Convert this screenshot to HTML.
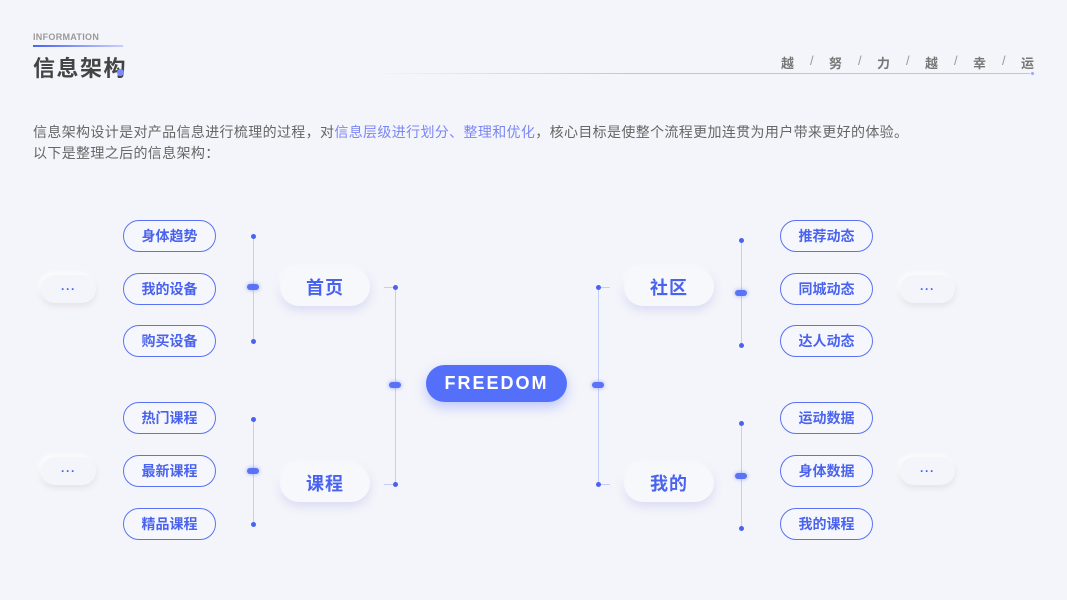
<!DOCTYPE html>
<html><head><meta charset="utf-8"><style>
*{margin:0;padding:0;box-sizing:border-box}
body{width:1067px;height:600px;background:#f4f5fa;position:relative;overflow:hidden;font-family:"Liberation Sans","Noto Sans CJK SC",sans-serif}
.a{position:absolute}
.leaf{position:absolute;width:93px;height:32px;border:1.5px solid #5a72f5;border-radius:16px;color:#4a63ef;font-size:14px;font-weight:bold;display:flex;align-items:center;justify-content:center;background:#f6f7fc}
.mid{position:absolute;width:90px;height:38px;border-radius:19px;background:#f7f8fc;box-shadow:0 4px 10px rgba(110,125,220,.22),-2px -2px 6px #fff;color:#4a63ef;font-size:18px;font-weight:bold;display:flex;align-items:center;justify-content:center;letter-spacing:1px}
.dots{position:absolute;width:55px;height:28px;border-radius:14px;background:#f4f5fa;box-shadow:0 3px 7px rgba(0,0,0,.08),-2px -2px 5px #fff;color:#4a63ef;font-size:12px;font-weight:bold;display:flex;align-items:center;justify-content:center;letter-spacing:1px}
.vl{position:absolute;width:1px;background:#c5cdfb}
.hl{position:absolute;height:1px;background:#c5cdfb}
.dot{position:absolute;width:5px;height:5px;border-radius:50%;background:#4a63ef;margin:-2px 0 0 -2px}
.dash{position:absolute;width:12px;height:6px;border-radius:3px;background:#5a72f5;margin:-3px 0 0 -6px;box-shadow:0 0 4px rgba(90,114,245,.6)}
.s{position:absolute;top:53px;font-size:13px;font-weight:bold;color:#777}
.sl{position:absolute;top:53px;font-size:13px;color:#999}
</style></head><body>
<div class="a" style="left:33px;top:32px;font-size:9px;color:#999;font-weight:bold;letter-spacing:.3px">INFORMATION</div>
<div class="a" style="left:33px;top:45px;width:90px;height:2px;background:linear-gradient(90deg,#4a63ef,#c8cffb)"></div>
<div class="a" style="left:33px;top:51px;font-size:22px;font-weight:bold;color:#444;letter-spacing:1.5px">信息架构</div>
<div class="a" style="left:117px;top:69px;width:7px;height:7px;border-radius:50%;background:#7d8cf5"></div>
<div class="a" style="left:370px;top:73px;width:660px;height:1px;background:linear-gradient(90deg,rgba(180,195,250,0),#b5c3fa 40%)"></div>
<div class="a" style="left:1031px;top:72px;width:3px;height:3px;border-radius:50%;background:#9aa8f8"></div>
<div class="s" style="left:781px">越</div><div class="sl" style="left:810px">/</div>
<div class="s" style="left:829px">努</div><div class="sl" style="left:858px">/</div>
<div class="s" style="left:877px">力</div><div class="sl" style="left:906px">/</div>
<div class="s" style="left:925px">越</div><div class="sl" style="left:954px">/</div>
<div class="s" style="left:973px">幸</div><div class="sl" style="left:1002px">/</div>
<div class="s" style="left:1021px">运</div>
<div class="a" style="left:33px;top:122px;font-size:14px;color:#666;line-height:21px;letter-spacing:.35px;white-space:nowrap">信息架构设计是对产品信息进行梳理的过程，对<span style="color:#7b86f5">信息层级进行划分、整理和优化</span>，核心目标是使整个流程更加连贯为用户带来更好的体验。<br>以下是整理之后的信息架构：</div>

<div class="dots" style="left:41px;top:275px">···</div>
<div class="dots" style="left:41px;top:457px">···</div>
<div class="dots" style="left:900px;top:275px">···</div>
<div class="dots" style="left:900px;top:457px">···</div>

<div class="leaf" style="left:123px;top:220px">身体趋势</div>
<div class="leaf" style="left:123px;top:273px">我的设备</div>
<div class="leaf" style="left:123px;top:325px">购买设备</div>
<div class="leaf" style="left:123px;top:402px">热门课程</div>
<div class="leaf" style="left:123px;top:455px">最新课程</div>
<div class="leaf" style="left:123px;top:508px">精品课程</div>
<div class="leaf" style="left:780px;top:220px">推荐动态</div>
<div class="leaf" style="left:780px;top:273px">同城动态</div>
<div class="leaf" style="left:780px;top:325px">达人动态</div>
<div class="leaf" style="left:780px;top:402px">运动数据</div>
<div class="leaf" style="left:780px;top:455px">身体数据</div>
<div class="leaf" style="left:780px;top:508px">我的课程</div>

<div class="vl" style="left:253px;top:236px;height:106px"></div>
<div class="dot" style="left:253px;top:236px"></div><div class="dot" style="left:253px;top:341px"></div><div class="dash" style="left:253px;top:287px"></div>
<div class="vl" style="left:253px;top:419px;height:106px"></div>
<div class="dot" style="left:253px;top:419px"></div><div class="dot" style="left:253px;top:524px"></div><div class="dash" style="left:253px;top:471px"></div>

<div class="mid" style="left:280px;top:268px">首页</div>
<div class="mid" style="left:280px;top:464px">课程</div>
<div class="mid" style="left:624px;top:268px">社区</div>
<div class="mid" style="left:624px;top:464px">我的</div>

<div class="hl" style="left:384px;top:287px;width:11px"></div>
<div class="hl" style="left:384px;top:484px;width:11px"></div>
<div class="vl" style="left:395px;top:287px;height:197px"></div>
<div class="dot" style="left:395px;top:287px"></div><div class="dot" style="left:395px;top:484px"></div><div class="dash" style="left:395px;top:385px"></div>

<div class="hl" style="left:598px;top:287px;width:12px"></div>
<div class="hl" style="left:598px;top:484px;width:12px"></div>
<div class="vl" style="left:598px;top:287px;height:197px"></div>
<div class="dot" style="left:598px;top:287px"></div><div class="dot" style="left:598px;top:484px"></div><div class="dash" style="left:598px;top:385px"></div>

<div class="vl" style="left:741px;top:240px;height:105px"></div>
<div class="dot" style="left:741px;top:240px"></div><div class="dot" style="left:741px;top:345px"></div><div class="dash" style="left:741px;top:293px"></div>
<div class="vl" style="left:741px;top:423px;height:105px"></div>
<div class="dot" style="left:741px;top:423px"></div><div class="dot" style="left:741px;top:528px"></div><div class="dash" style="left:741px;top:476px"></div>

<div class="a" style="left:426px;top:365px;width:141px;height:37px;border-radius:19px;background:#5470fb;box-shadow:0 5px 12px rgba(84,112,251,.35);color:#fff;font-size:18px;font-weight:bold;letter-spacing:2px;display:flex;align-items:center;justify-content:center">FREEDOM</div>
</body></html>
